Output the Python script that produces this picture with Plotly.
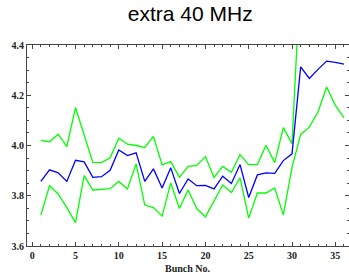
import plotly.graph_objects as go

bunch = list(range(1, 37))
mean_vals = [3.857, 3.903, 3.891, 3.857, 3.941, 3.935, 3.873, 3.876, 3.901, 3.982,
             3.960, 3.971, 3.857, 3.907, 3.831, 3.911, 3.809, 3.867, 3.840, 3.841,
             3.827, 3.878, 3.849, 3.924, 3.793, 3.883, 3.891, 3.889, 3.940, 3.967,
             4.313, 4.267, 4.303, 4.336, 4.331, 4.324]
upper_vals = [4.020, 4.015, 4.045, 3.996, 4.151, 4.043, 3.933, 3.932, 3.951, 4.029,
              4.005, 4.000, 3.992, 4.036, 3.923, 3.936, 3.873, 3.917, 3.921, 3.956,
              3.873, 3.917, 3.893, 3.964, 3.924, 3.924, 4.001, 3.932, 4.071, 4.007,
              4.700, 4.395, 4.600, 4.650, 4.620, 4.580]
lower_vals = [3.723, 3.840, 3.807, 3.753, 3.693, 3.880, 3.823, 3.827, 3.828, 3.857,
              3.827, 3.927, 3.763, 3.753, 3.719, 3.851, 3.749, 3.823, 3.749, 3.716,
              3.780, 3.843, 3.813, 3.871, 3.711, 3.811, 3.811, 3.831, 3.724, 3.913,
              4.044, 4.073, 4.133, 4.233, 4.160, 4.111]

x_ticks = [0, 5, 10, 15, 20, 25, 30, 35]
y_ticks = [3.6, 3.8, 4.0, 4.2, 4.4]
y_tick_labels = ["3.6", "3.8", "4.0", "4.2", "4.4"]
x_title = "Bunch No."
chart_title = "extra 40 MHz"

green = "rgb(0,255,0)"
blue = "rgb(0,0,255)"
serif = "Liberation Serif, Times New Roman, serif"

fig = go.Figure()
fig.add_trace(go.Scatter(x=bunch, y=upper_vals, mode="lines",
                         line=dict(color=green, width=1.3), showlegend=False))
fig.add_trace(go.Scatter(x=bunch, y=lower_vals, mode="lines",
                         line=dict(color=green, width=1.3), showlegend=False))
fig.add_trace(go.Scatter(x=bunch, y=mean_vals, mode="lines",
                         line=dict(color=blue, width=1.3), showlegend=False))

tickfont = dict(family=serif, size=10, color="#222")
axis_common = dict(
    showline=True, linecolor="#444", linewidth=1, mirror="ticks",
    ticks="inside", ticklen=4, tickcolor="#444", tickwidth=1,
    showgrid=False, zeroline=False, tickfont=tickfont, automargin=False,
)

fig.update_layout(
    width=349, height=278,
    margin=dict(l=27, r=0, t=45, b=32),
    paper_bgcolor="white", plot_bgcolor="white",
    title=dict(text=chart_title, x=0.545, xanchor="center", y=0.95, yanchor="middle",
               font=dict(family="Liberation Sans, Arial, sans-serif", size=21, color="black")),
    xaxis=dict(range=[-0.6, 36.58], tickvals=x_ticks, ticktext=[f"<b>{v}</b>" for v in x_ticks],
               minor=dict(dtick=1, tick0=0, ticks="inside", ticklen=2, tickcolor="#444"),
               **axis_common),
    yaxis=dict(range=[3.6, 4.4], tickvals=y_ticks, ticktext=[f"<b>{t}</b>" for t in y_tick_labels],
               minor=dict(dtick=0.05, tick0=3.6, ticks="inside", ticklen=2, tickcolor="#444"),
               **axis_common),
    annotations=[dict(text=f"<b>{x_title}</b>", xref="paper", yref="paper", x=0.5, y=0,
                      xanchor="center", yanchor="top", yshift=-15, showarrow=False,
                      font=dict(family=serif, size=10, color="#222"))],
)

fig.write_html("out.html", config={"displayModeBar": False},
               post_script="document.body.style.margin='0';document.body.style.overflow='hidden';")
